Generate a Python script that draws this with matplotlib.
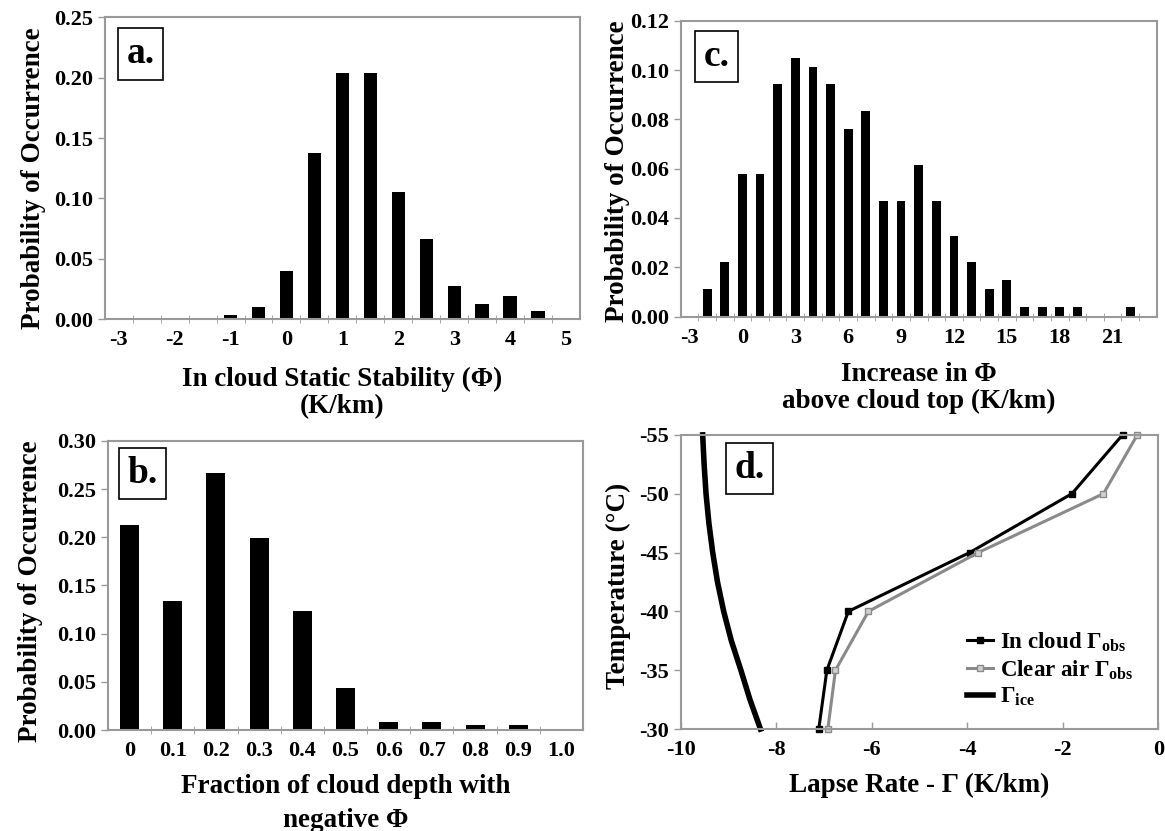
import numpy as np
import matplotlib
matplotlib.use("Agg")
import matplotlib.pyplot as plt

# Fuentes: serif negrita como el original
plt.rcParams['font.family'] = ['Liberation Serif', 'DejaVu Serif']
plt.rcParams['font.weight'] = 'bold'
plt.rcParams['axes.unicode_minus'] = False
plt.rcParams['mathtext.fontset'] = 'custom'
plt.rcParams['mathtext.rm'] = 'Liberation Serif:bold'
plt.rcParams['mathtext.it'] = 'Liberation Serif:bold'
plt.rcParams['mathtext.bf'] = 'Liberation Serif:bold'

# Datos panel a
#--------------------------------------
stab_bins  = [-3, -2.5, -2, -1.5, -1, -0.5, 0, 0.5, 1, 1.5, 2, 2.5, 3, 3.5, 4, 4.5, 5]
stab_prob  = [0, 0, 0, 0, 0.0037, 0.0097, 0.0395, 0.138, 0.2036, 0.2036, 0.105,
              0.066, 0.0276, 0.0127, 0.0188, 0.0066, 0]
stab_ticks = [-3, -2, -1, 0, 1, 2, 3, 4, 5]

# Datos panel b
#--------------------------------------
frac_bins  = [0, 0.1, 0.2, 0.3, 0.4, 0.5, 0.6, 0.7, 0.8, 0.9, 1.0]
frac_prob  = [0.213, 0.134, 0.267, 0.199, 0.123, 0.044, 0.0086, 0.0086, 0.005, 0.005, 0]
frac_labels = ['0', '0.1', '0.2', '0.3', '0.4', '0.5', '0.6', '0.7', '0.8', '0.9', '1.0']

# Datos panel c
#--------------------------------------
inc_bins   = list(range(-3, 24))
inc_prob   = [0, 0.0112, 0.0222, 0.0580, 0.0580, 0.0943, 0.1051, 0.1014, 0.0943, 0.0763,
              0.0835, 0.0470, 0.0470, 0.0615, 0.0470, 0.0329, 0.0222, 0.0112, 0.0148,
              0.0040, 0.0040, 0.0040, 0.0040, 0, 0, 0.0040, 0]
inc_ticks  = [-3, 0, 3, 6, 9, 12, 15, 18, 21]

# Datos panel d
#--------------------------------------
temp_obs   = [-30, -35, -40, -45, -50, -55]
lr_cloud   = [-7.11, -6.94, -6.49, -3.95, -1.81, -0.75]
lr_clear   = [-6.92, -6.76, -6.07, -3.77, -1.15, -0.44]
temp_ice   = [-30, -32.5, -35, -37.5, -40, -42.5, -45, -47.5, -50, -52.5, -55]
lr_ice     = [-8.33, -8.55, -8.74, -8.94, -9.10, -9.23, -9.33, -9.41, -9.47, -9.51, -9.54]
#--------------------------------------

frame_col = '#999999'
tick_fs   = 16
lab_fs    = 19.5

fig = plt.figure(figsize=(11.65, 8.31), dpi=100)

def style_axes(ax):
    for s in ax.spines.values():
        s.set_color(frame_col)
        s.set_linewidth(1.5)
    ax.tick_params(labelsize=tick_fs, color=frame_col, width=1.0)
    ax.tick_params(axis='y', length=5)

def panel_box(ax, txt, x, y):
    ax.text(x, y, txt, transform=ax.transAxes, fontsize=27, fontweight='bold',
            ha='center', va='center',
            bbox=dict(boxstyle='square,pad=0.22', fc='white', ec='black', lw=1.2))

# Panel a
axA = fig.add_axes([0.0899, 0.616, 0.408, 0.363])
axA.bar(stab_bins, stab_prob, width=0.24, color='black')
axA.set_xlim(-3.25, 5.25)
axA.set_ylim(0, 0.25)
axA.set_yticks(np.arange(0, 0.26, 0.05))
axA.set_yticklabels(['%.2f' % v for v in np.arange(0, 0.26, 0.05)])
axA.set_xticks(stab_ticks)
axA.set_xticks(np.arange(-2.75, 5.0, 0.5), minor=True)
axA.set_xlabel('In cloud Static Stability (Φ)\n(K/km)', fontsize=lab_fs, fontweight='bold',
               labelpad=12, linespacing=1.1)
axA.set_ylabel('Probability of Occurrence', fontsize=lab_fs, fontweight='bold', labelpad=6)
axA.yaxis.label.set_y(0.467)
style_axes(axA)
axA.tick_params(axis='x', which='minor', length=6, direction='inout', color=frame_col)
axA.tick_params(axis='x', which='major', length=0, pad=8)
panel_box(axA, 'a.', 0.075, 0.879)

# Panel c
axC = fig.add_axes([0.5843, 0.619, 0.4086, 0.356])
axC.bar(inc_bins, inc_prob, width=0.5, color='black')
axC.set_xlim(-3.5, 23.5)
axC.set_ylim(0, 0.12)
axC.set_yticks(np.arange(0, 0.121, 0.02))
axC.set_yticklabels(['%.2f' % v for v in np.arange(0, 0.121, 0.02)])
axC.set_xticks(inc_ticks)
axC.set_xticks(np.arange(-2.5, 23, 1.0), minor=True)
axC.set_xlabel('Increase in Φ\nabove cloud top (K/km)', fontsize=lab_fs, fontweight='bold',
               labelpad=10, linespacing=1.1)
axC.set_ylabel('Probability of Occurrence', fontsize=lab_fs, fontweight='bold', labelpad=0)
axC.yaxis.label.set_y(0.49)
style_axes(axC)
axC.tick_params(axis='x', which='minor', length=6, direction='inout', color=frame_col)
axC.tick_params(axis='x', which='major', length=0, pad=8)
panel_box(axC, 'c.', 0.075, 0.88)

# Panel b
axB = fig.add_axes([0.0927, 0.1215, 0.4077, 0.348])
xb = np.arange(len(frac_bins))
axB.bar(xb, frac_prob, width=0.44, color='black')
axB.set_xlim(-0.5, len(frac_bins) - 0.5)
axB.set_ylim(0, 0.30)
axB.set_yticks(np.arange(0, 0.31, 0.05))
axB.set_yticklabels(['%.2f' % v for v in np.arange(0, 0.31, 0.05)])
axB.set_xticks(xb)
axB.set_xticklabels(frac_labels)
axB.set_xticks(np.arange(0.5, len(frac_bins) - 0.5, 1.0), minor=True)
axB.set_xlabel('Fraction of cloud depth with\nnegative Φ', fontsize=lab_fs, fontweight='bold',
               labelpad=9, linespacing=1.5)
axB.set_ylabel('Probability of Occurrence', fontsize=lab_fs, fontweight='bold', labelpad=10)
axB.yaxis.label.set_y(0.48)
style_axes(axB)
axB.tick_params(axis='x', which='minor', length=6, direction='inout', color=frame_col)
axB.tick_params(axis='x', which='major', length=0, pad=8)
panel_box(axB, 'b.', 0.0723, 0.8875)

# Panel d
axD = fig.add_axes([0.5843, 0.1227, 0.410, 0.354])
axD.plot(lr_cloud, temp_obs, '-s', color='black', lw=2.2, ms=5, mfc='black',
         label=r'In cloud $\Gamma_{obs}$')
axD.plot(lr_clear, temp_obs, '-s', color='#8a8a8a', lw=2.2, ms=5, mfc='#d0d0d0',
         mec='#8a8a8a', label=r'Clear air $\Gamma_{obs}$')
axD.plot(lr_ice, temp_ice, '-', color='black', lw=4, label=r'$\Gamma_{ice}$')
axD.set_xlim(-10, 0)
axD.set_ylim(-30, -55)
axD.set_xticks(np.arange(-10, 1, 2))
axD.set_yticks(np.arange(-55, -29, 5))
axD.set_xlabel('Lapse Rate - Γ (K/km)', fontsize=lab_fs, fontweight='bold', labelpad=9)
axD.set_ylabel('Temperature (°C)', fontsize=lab_fs, fontweight='bold', labelpad=6)
axD.yaxis.label.set_y(0.485)
style_axes(axD)
axD.tick_params(axis='x', direction='in', length=5, pad=8)
axD.tick_params(axis='y', direction='out', length=5)
for ln in axD.get_lines():
    ln.set_clip_on(False)
leg = axD.legend(loc='lower right', bbox_to_anchor=(0.99, 0.0), frameon=False,
                 fontsize=16.5, handlelength=1.1, handletextpad=0.3, labelspacing=0.2)
panel_box(axD, 'd.', 0.144, 0.886)

fig.savefig('out.png', dpi=100)
